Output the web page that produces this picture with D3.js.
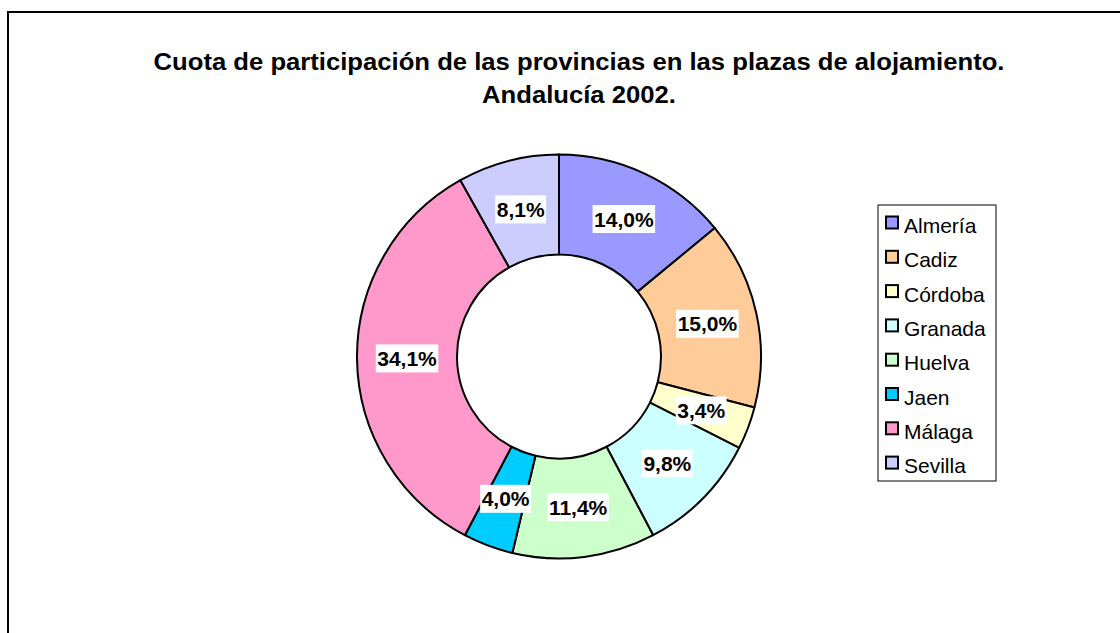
<!DOCTYPE html>
<html>
<head>
<meta charset="utf-8">
<script src="https://cdn.jsdelivr.net/npm/d3@7"></script>
<style>
  body { margin: 0; background: #fff; }
  svg { display: block; font-family: "Liberation Sans", Arial, sans-serif; }
</style>
</head>
<body>
<div id="chart"></div>
<script>
var width = 1120, height = 633;

var provincias = ["Almería", "Cadiz", "Córdoba", "Granada", "Huelva", "Jaen", "Málaga", "Sevilla"];
var cuotas = [14.0, 15.0, 3.4, 9.8, 11.4, 4.0, 34.1, 8.1];
var colores = ["#9999FF", "#FFCC99", "#FFFFCC", "#CCFFFF", "#CCFFCC", "#00CCFF", "#FF99CC", "#CCCCFF"];
var titulo = ["Cuota de participación de las provincias en las plazas de alojamiento.", "Andalucía 2002."];

var data = provincias.map(function(p, i){ return {name: p, value: cuotas[i]}; });

var svg = d3.select("#chart").append("svg")
  .attr("width", width)
  .attr("height", height);

svg.append("rect")
  .attr("width", width).attr("height", height)
  .attr("fill", "#fff");

// chart frame (right and bottom edges fall outside the picture)
svg.append("rect")
  .attr("x", 8).attr("y", 12)
  .attr("width", 1300).attr("height", 900)
  .attr("fill", "none")
  .attr("stroke", "#000")
  .attr("stroke-width", 2);

// title: the original glyphs are a bit wider than Liberation, so stretch
var titleX = 579, titleW = 851;
var tg = svg.append("g");
var tt = tg.selectAll("text.titulo")
  .data(titulo)
  .enter()
  .append("text")
  .attr("class", "titulo")
  .attr("x", 0)
  .attr("y", function(d, i){ return 70 + i * 33; })
  .attr("text-anchor", "middle")
  .attr("font-size", "23px")
  .attr("font-weight", "bold")
  .attr("fill", "#000")
  .text(function(d){ return d; });
var sx = titleW / tt.node().getComputedTextLength();
tg.attr("transform", "translate(" + titleX + ",0) scale(" + sx + ",1)");

// donut
var cx = 559, cy = 356.5, rOuter = 202, rInner = 102;
var color = d3.scaleOrdinal().domain(provincias).range(colores);

var pie = d3.pie()
  .sort(null)
  .value(function(d){ return d.value; });

var arc = d3.arc().innerRadius(rInner).outerRadius(rOuter);
var labelArc = d3.arc().innerRadius((rInner + rOuter) / 2).outerRadius((rInner + rOuter) / 2);

var g = svg.append("g").attr("transform", "translate(" + cx + "," + cy + ")");

var arcs = pie(data);

g.selectAll("path")
  .data(arcs)
  .enter()
  .append("path")
  .attr("d", arc)
  .attr("fill", function(d){ return color(d.data.name); })
  .attr("stroke", "#000")
  .attr("stroke-width", 2)
  .attr("stroke-linejoin", "round");

var fmt = function(v){ return v.toFixed(1).replace(".", ",") + "%"; };

var lab = g.selectAll("g.lab")
  .data(arcs)
  .enter()
  .append("g")
  .attr("class", "lab")
  .attr("transform", function(d){ return "translate(" + labelArc.centroid(d) + ")"; });

lab.append("text")
  .attr("text-anchor", "middle")
  .attr("dy", "0.36em")
  .attr("font-size", "21px")
  .attr("font-weight", "bold")
  .attr("fill", "#000")
  .text(function(d){ return fmt(d.data.value); });

lab.each(function(){
  var t = d3.select(this).select("text");
  var w = t.node().getComputedTextLength();
  d3.select(this).insert("rect", "text")
    .attr("x", -w / 2 - 1.5)
    .attr("y", -14)
    .attr("width", w + 3)
    .attr("height", 28)
    .attr("fill", "#fff");
});

// legend
var legend = svg.append("g").attr("transform", "translate(878,205)");
legend.append("rect")
  .attr("width", 118).attr("height", 276)
  .attr("fill", "#fff")
  .attr("stroke", "#000")
  .attr("stroke-width", 1);

var item = legend.selectAll("g.item")
  .data(provincias)
  .enter()
  .append("g")
  .attr("class", "item")
  .attr("transform", function(d, i){ return "translate(0," + (17.5 + i * 34.3) + ")"; });

item.append("rect")
  .attr("x", 8).attr("y", -6)
  .attr("width", 12).attr("height", 12)
  .attr("fill", function(d){ return color(d); })
  .attr("stroke", "#000")
  .attr("stroke-width", 2);

item.append("text")
  .attr("x", 26)
  .attr("y", 10.5)
  .attr("font-size", "21px")
  .attr("fill", "#000")
  .text(function(d){ return d; });
</script>
</body>
</html>
